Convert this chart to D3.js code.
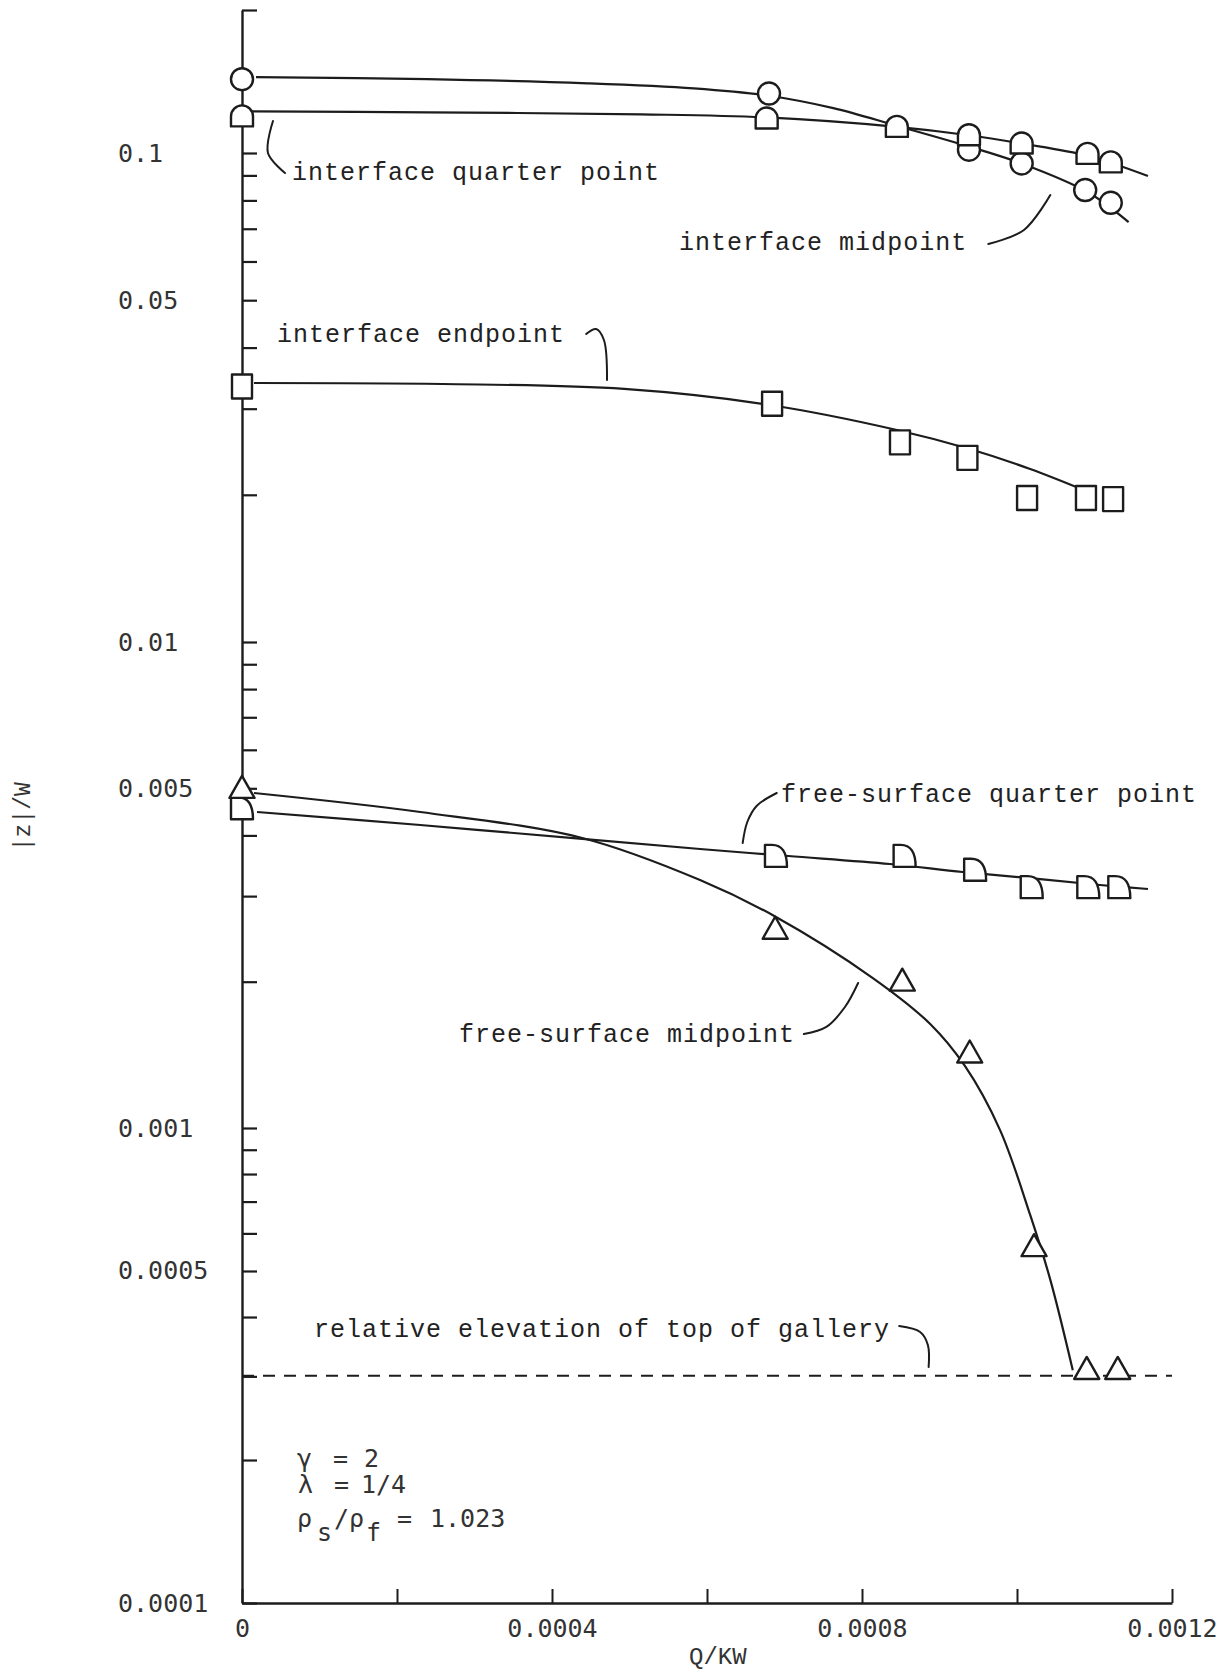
<!DOCTYPE html>
<html>
<head>
<meta charset="utf-8">
<script src="https://cdn.jsdelivr.net/npm/d3@7"></script>
<style>
  html, body { margin: 0; padding: 0; background: #fff; }
  svg { display: block; }
</style>
</head>
<body>
<svg id="chart"></svg>
<script>
// ---- measured points, Q/KW against |z|/W ----
// interface midpoint (circles)
const qIntMid = [0, 0.000680, 0.000938, 0.001006, 0.001088, 0.001121];
const vIntMid = [0.1430, 0.1334, 0.1016, 0.0952, 0.0840, 0.0791];
// interface quarter point (arches)
const qIntQuarter = [0, 0.000677, 0.000845, 0.000938, 0.001006, 0.001091, 0.001121];
const vIntQuarter = [0.1194, 0.1182, 0.1135, 0.1090, 0.1047, 0.0996, 0.0957];
// interface endpoint (squares)
const qIntEnd = [0, 0.000684, 0.000849, 0.000936, 0.001013, 0.001089, 0.001124];
const vIntEnd = [0.0333, 0.0307, 0.0256, 0.0238, 0.0197, 0.0197, 0.0196];
// free-surface quarter point (quarter discs)
const qFreeQuarter = [0, 0.000689, 0.000855, 0.000946, 0.001019, 0.001092, 0.001132];
const vFreeQuarter = [0.00455, 0.00363, 0.00363, 0.00340, 0.00313, 0.00313, 0.00313];
// free-surface midpoint (triangles)
const qFreeMid = [0, 0.000688, 0.000852, 0.000939, 0.001022, 0.001090, 0.001130];
const vFreeMid = [0.00501, 0.00257, 0.00201, 0.00143, 0.000564, 0.000311, 0.000311];

// ---- hand-faired curves ----
const cqIntMid = [0.0000181, 0.000239, 0.000446, 0.000583, 0.000680, 0.000763, 0.000845, 0.000938, 0.001006, 0.001091, 0.001144];
const cvIntMid = [0.1445, 0.1431, 0.1402, 0.1368, 0.1320, 0.1243, 0.1141, 0.1032, 0.0952, 0.0832, 0.0722];
const cqIntQuarter = [0.0000075, 0.000239, 0.000515, 0.000677, 0.000845, 0.000938, 0.001006, 0.001091, 0.001169];
const cvIntQuarter = [0.1224, 0.1218, 0.1206, 0.1188, 0.1135, 0.1090, 0.1047, 0.0987, 0.0897];
const cqIntEnd = [0.0000155, 0.000258, 0.000493, 0.000681, 0.000845, 0.000939, 0.001017, 0.001089];
const cvIntEnd = [0.03386, 0.03370, 0.03292, 0.03053, 0.02714, 0.02481, 0.02258, 0.02036];
const cqFreeQuarter = [0.0000194, 0.000230, 0.000439, 0.000591, 0.000705, 0.000836, 0.000930, 0.001030, 0.001107, 0.001169];
const cvFreeQuarter = [0.004469, 0.004202, 0.003934, 0.003750, 0.003628, 0.003493, 0.003363, 0.003253, 0.003162, 0.003103];
const cqFreeMid = [0.0000155, 0.000230, 0.000439, 0.000591, 0.000689, 0.000814, 0.000888, 0.000933, 0.000978, 0.001017, 0.001043, 0.001072];
const cvFreeMid = [0.004890, 0.004469, 0.003952, 0.003238, 0.002718, 0.002035, 0.001637, 0.001340, 0.000991, 0.000656, 0.000479, 0.000309];

// relative elevation of top of gallery
const gallery = 0.000301;

// tick labels
const xLabelTicks = [0, 0.0004, 0.0008, 0.0012];
const yLabelTicks = [0.1, 0.05, 0.01, 0.005, 0.001, 0.0005, 0.0001];

// annotations: text, anchor (Q, |z|/W) of the text start, leader line
const annText = ["interface quarter point", "interface midpoint", "interface endpoint",
                 "free-surface quarter point", "free-surface midpoint", "relative elevation of top of gallery"];
const annQ = [0.0000645, 0.000564, 0.0000452, 0.0006955, 0.000280, 0.0000929];
const annV = [0.0881, 0.0633, 0.0411, 0.00469, 0.00150, 0.000363];
const annLeaders = [
  [[0.0000400, 0.1168], [0.0000335, 0.1000], [0.0000555, 0.0910]],
  [[0.000963, 0.06515], [0.001009, 0.06961], [0.001043, 0.08205]],
  [[0.000444, 0.04265], [0.000457, 0.04366], [0.000467, 0.04146], [0.000471, 0.03434]],
  [[0.000690, 0.004890], [0.000664, 0.004599], [0.000652, 0.004262], [0.000646, 0.003858]],
  [[0.000725, 0.001561], [0.000754, 0.001614], [0.000778, 0.001774], [0.000795, 0.001988]],
  [[0.000848, 0.0003829], [0.000875, 0.0003720], [0.000885, 0.0003493], [0.000886, 0.0003139]]
];

// parameter block
const paramQ = 0.000071, paramV = 0.000193;

const W = 1226, H = 1674;
const plot = { left: 242, right: 1172, bottom: 1603 };
// rows of 1e-4, 1e-3, 1e-2, 0.1, 0.2 on the scanned sheet (decades are not quite even)
const yRows = [plot.bottom, 1128, 642, 153, 10];

const svg = d3.select("#chart").attr("width", W).attr("height", H)
  .style("background", "#fff");

const x = d3.scaleLinear().domain([0, 0.0012]).range([plot.left, plot.right]);
const y = d3.scaleLog().domain([1e-4, 1e-3, 1e-2, 1e-1, 0.2]).range(yRows);

const ink = "#1c1c1c";
const monoSerif = "'Liberation Mono', 'DejaVu Sans Mono', monospace";
const monoSans = "'DejaVu Sans Mono', monospace";

// ---- axes ----
const yAxis = svg.append("g")
  .attr("transform", `translate(${plot.left},0)`)
  .call(d3.axisRight(y).tickValues(y.ticks()).tickSizeInner(15).tickSizeOuter(0).tickFormat(() => ""));
yAxis.select(".domain").attr("stroke", ink).attr("stroke-width", 2.4);
yAxis.selectAll(".tick line").attr("stroke", ink).attr("stroke-width", 2.2);

const isLabelled = d => xLabelTicks.some(t => Math.abs(t - d) < 1e-12);
const xAxis = svg.append("g")
  .attr("transform", `translate(0,${plot.bottom})`)
  .call(d3.axisBottom(x).ticks(6).tickSizeInner(-14).tickSizeOuter(0).tickPadding(16)
    .tickFormat(d => isLabelled(d) ? String(+d.toFixed(4)) : ""));
xAxis.select(".domain").attr("stroke", ink).attr("stroke-width", 2.4);
xAxis.selectAll(".tick line").attr("stroke", ink).attr("stroke-width", 2);
xAxis.selectAll(".tick text")
  .attr("fill", "#333").style("font-family", monoSans).style("font-size", "25px");

svg.append("g").selectAll("text")
  .data(yLabelTicks)
  .join("text")
    .attr("x", 118)
    .attr("y", d => y(d))
    .attr("dominant-baseline", "central")
    .attr("fill", "#333")
    .style("font-family", monoSans)
    .style("font-size", "25px")
    .text(d => String(d));

svg.append("text")
  .attr("x", x(0.000614)).attr("y", H - 10)
  .attr("text-anchor", "middle")
  .attr("fill", "#333")
  .style("font-family", monoSerif).style("font-size", "24px")
  .text("Q/KW");

svg.append("text")
  .attr("transform", `translate(24,${y(0.00437)}) rotate(-90)`)
  .attr("text-anchor", "middle")
  .attr("dominant-baseline", "central")
  .attr("fill", "#333")
  .style("font-family", monoSerif).style("font-size", "23px")
  .text("|z|/W");

// ---- curves ----
const line = d3.line().x(d => x(d[0])).y(d => y(d[1])).curve(d3.curveCatmullRom.alpha(0.5));
const curves = [
  d3.zip(cqIntMid, cvIntMid),
  d3.zip(cqIntQuarter, cvIntQuarter),
  d3.zip(cqIntEnd, cvIntEnd),
  d3.zip(cqFreeQuarter, cvFreeQuarter),
  d3.zip(cqFreeMid, cvFreeMid)
];
svg.append("g").selectAll("path")
  .data(curves)
  .join("path")
    .attr("d", line)
    .attr("fill", "none")
    .attr("stroke", ink)
    .attr("stroke-width", 2.2);

// gallery top, dashed
svg.append("path")
  .attr("d", d3.line().x(d => x(d[0])).y(d => y(d[1]))([[0, gallery], [0.0012, gallery]]))
  .attr("fill", "none")
  .attr("stroke", ink)
  .attr("stroke-width", 2)
  .attr("stroke-dasharray", "12 9");

// ---- markers ----
function markerPath(shape) {
  const p = d3.path();
  if (shape === "circle") {
    p.moveTo(11, 0);
    p.arc(0, 0, 11, 0, 2 * Math.PI);
  } else if (shape === "arch") {
    p.moveTo(-11, 10); p.lineTo(-11, 0);
    p.arc(0, 0, 11, Math.PI, 0);
    p.lineTo(11, 10); p.closePath();
  } else if (shape === "square") {
    p.rect(-10, -12, 20, 24);
  } else if (shape === "quarter") {
    p.moveTo(-11, 11); p.lineTo(-11, -11); p.lineTo(-4, -11);
    p.quadraticCurveTo(11, -11, 11, 11); p.closePath();
  } else {
    p.moveTo(0, -12); p.lineTo(12.5, 10); p.lineTo(-12.5, 10); p.closePath();
  }
  return p.toString();
}

const markerSets = [
  { pts: d3.zip(qIntMid, vIntMid), shape: "circle" },
  { pts: d3.zip(qIntQuarter, vIntQuarter), shape: "arch" },
  { pts: d3.zip(qIntEnd, vIntEnd), shape: "square" },
  { pts: d3.zip(qFreeQuarter, vFreeQuarter), shape: "quarter" },
  { pts: d3.zip(qFreeMid, vFreeMid), shape: "triangle" }
];
markerSets.forEach(s => {
  svg.append("g").selectAll("path")
    .data(s.pts)
    .join("path")
      .attr("transform", d => `translate(${x(d[0])},${y(d[1])})`)
      .attr("d", markerPath(s.shape))
      .attr("fill", "#fff")
      .attr("stroke", ink)
      .attr("stroke-width", 2.4)
      .attr("stroke-linejoin", "round");
});

// ---- annotations ----
const leader = d3.line().x(d => x(d[0])).y(d => y(d[1])).curve(d3.curveCatmullRom);
svg.append("g").selectAll("path")
  .data(annLeaders)
  .join("path")
    .attr("d", leader)
    .attr("fill", "none")
    .attr("stroke", ink)
    .attr("stroke-width", 2)
    .attr("stroke-linecap", "round");

svg.append("g").selectAll("text")
  .data(annText)
  .join("text")
    .attr("x", (d, i) => x(annQ[i]))
    .attr("y", (d, i) => y(annV[i]))
    .attr("fill", "#222")
    .style("font-family", monoSerif)
    .style("font-size", "25px")
    .style("letter-spacing", "1px")
    .text(d => d);

// parameter block: a single text element, rows and subscripts as placed tspans
const px = x(paramQ), py = y(paramV);
const paramParts = [
  ["γ", 0, 0], ["=", 36, 0], ["2", 67, 0],
  ["λ", 1, 26], ["=", 37, 26], ["1/4", 64, 26],
  ["ρ", 0, 60], ["s", 20, 74], ["/ρ", 37, 60], ["f", 69, 74], ["=", 100, 60], ["1.023", 133, 60]
];
const pt = svg.append("text")
  .attr("fill", "#333")
  .style("font-family", monoSans)
  .style("font-size", "25px");
paramParts.forEach(([s, dx, dy]) => {
  pt.append("tspan").attr("x", px + dx).attr("y", py + dy).text(s);
});
</script>
</body>
</html>
